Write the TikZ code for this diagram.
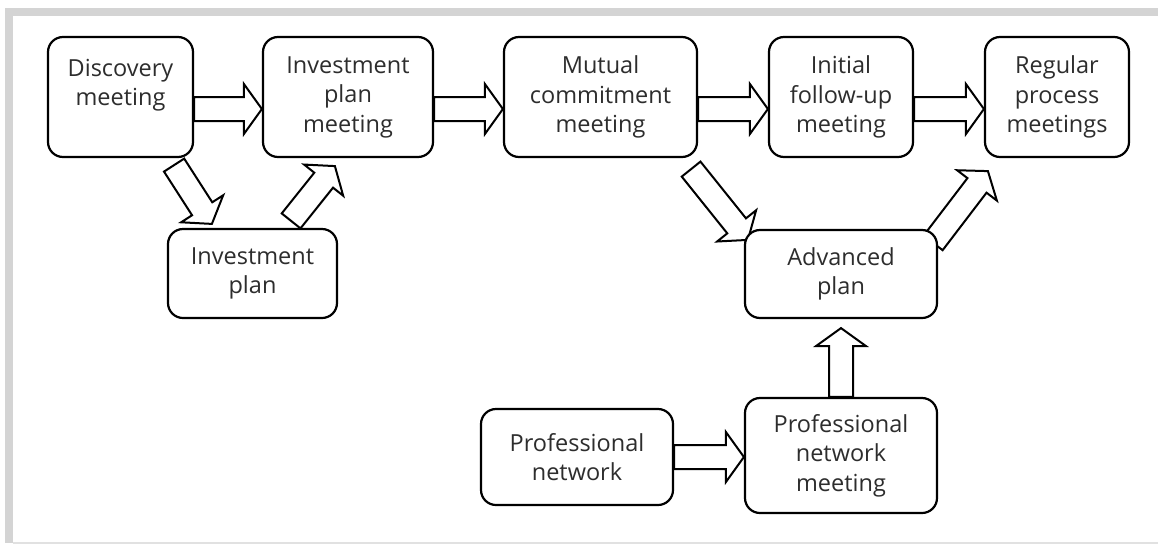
\documentclass[tikz,border=0pt]{standalone}
\usepackage{fontspec}
\setmainfont{Open Sans}
\usetikzlibrary{calc}
\pgfdeclarelayer{background}
\pgfsetlayers{background,main}
\definecolor{framegray}{RGB}{212,212,212}
\definecolor{framelight}{RGB}{225,225,225}
\definecolor{txt}{RGB}{45,45,45}
\tikzset{
  box/.style={draw=black, fill=white, line width=2.2pt, rounded corners=15pt,
    inner sep=0pt, align=center, text=txt,
    font=\fontsize{23.5}{29.5}\selectfont},
  arrowline/.style={draw=black, fill=white, line width=2pt, line join=miter}
}
\newcommand\blockarr[2]{%
  \path (#1) coordinate (ba-a) (#2) coordinate (ba-b);
  \path ($(ba-b)!18pt!(ba-a)$) coordinate (ba-h);
  \draw[arrowline]
    ($(ba-a)!12pt!90:(ba-b)$) -- ($(ba-h)!12pt!90:(ba-b)$) --
    ($(ba-h)!25pt!90:(ba-b)$) -- (ba-b) --
    ($(ba-h)!25pt!-90:(ba-b)$) -- ($(ba-h)!12pt!-90:(ba-b)$) --
    ($(ba-a)!12pt!-90:(ba-b)$) -- cycle;}
\begin{document}
\begin{tikzpicture}[x=1pt, y=-1pt]
\useasboundingbox (0,0) rectangle (1158,544);
% frame
\fill[framegray] (5,8) rectangle (1158,16);
\fill[framegray] (5,8) rectangle (13,543);
\fill[framelight] (13,542) rectangle (1158,543.5);
% boxes
\node[box, minimum width=145pt, minimum height=120pt] (disc) at (120.5,97) {Discovery\\meeting\\~};
\node[box, minimum width=170pt, minimum height=120pt] (ipm) at (348,97) {Investment\\plan\\meeting};
\node[box, minimum width=193pt, minimum height=120pt] (mcm) at (600.5,97) {Mutual\\commitment\\meeting};
\node[box, minimum width=144pt, minimum height=120pt] (ifm) at (841,97) {Initial\\follow-up\\meeting};
\node[box, minimum width=144pt, minimum height=120pt] (rpm) at (1057,97) {Regular\\process\\meetings};
\node[box, minimum width=169pt, minimum height=89pt] (ip) at (252.5,273.5) {Investment\\plan};
\node[box, minimum width=192pt, minimum height=88pt] (adv) at (841,274) {Advanced\\plan};
\node[box, minimum width=192pt, minimum height=96pt] (pn) at (577,457) {Professional\\network};
\node[box, minimum width=192pt, minimum height=115pt] (pnm) at (841,455.5) {Professional\\network\\meeting};
% arrows
\begin{pgfonlayer}{background}
\blockarr{$(disc.east)+(0,12)$}{$(ipm.west)+(0,12)$}
\blockarr{$(ipm.east)+(0,12)$}{$(mcm.west)+(0,12)$}
\blockarr{$(mcm.east)+(0,12)$}{$(ifm.west)+(0,12)$}
\blockarr{$(ifm.east)+(0,12)$}{$(rpm.west)+(0,12)$}
\blockarr{$(disc.south east)+(-20,7)$}{$(ip.north west)+(45,-4)$}
\blockarr{$(ip.north east)+(-47,-7)$}{$(ipm.south west)+(73,8)$}
\blockarr{$(mcm.south east)+(-7,11)$}{$(adv.north west)+(4,11)$}
\blockarr{$(adv.north east)+(-5,14)$}{$(rpm.south west)+(4,13)$}
\blockarr{pn.east}{pnm.west |- pn.east}
\blockarr{pnm.north}{$(adv.south)+(0,9)$}
\end{pgfonlayer}
\end{tikzpicture}
\end{document}
